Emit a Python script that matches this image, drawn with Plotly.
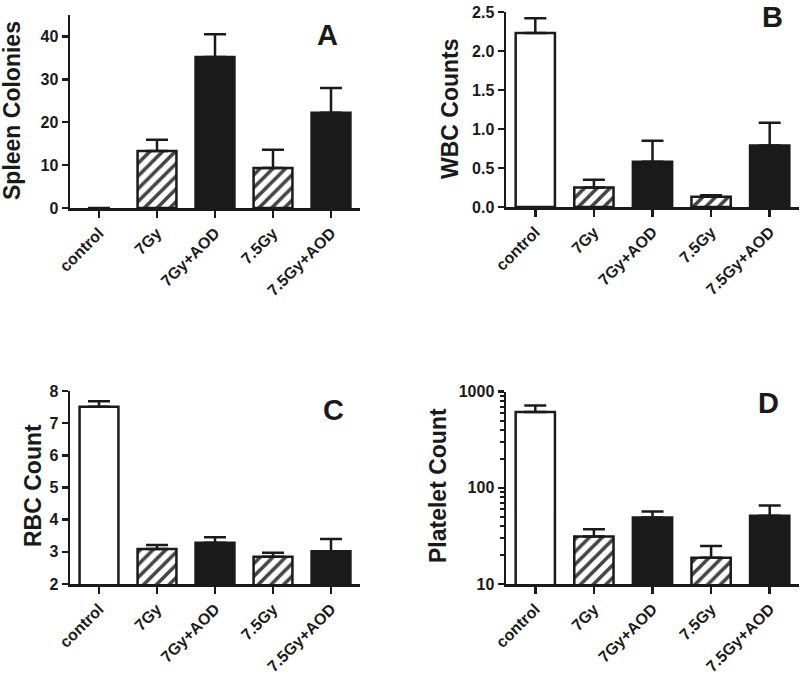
import plotly.graph_objects as go

categories = ["control", "7Gy", "7Gy+AOD", "7.5Gy", "7.5Gy+AOD"]

spleen_mean = [0, 13.3, 35.2, 9.3, 22.2]
spleen_err = [0, 2.6, 5.3, 4.3, 5.8]

wbc_mean = [2.23, 0.25, 0.58, 0.13, 0.79]
wbc_err = [0.19, 0.10, 0.27, 0.02, 0.29]

rbc_mean = [7.51, 3.09, 3.28, 2.85, 3.02]
rbc_err = [0.17, 0.12, 0.17, 0.12, 0.38]

plt_mean = [615, 31.1, 49.1, 18.8, 51.4]
plt_err = [105, 6.1, 7.5, 6.1, 14.1]

fill_colors = ["white", "white", "#1a1a1a", "white", "#1a1a1a"]
pattern_shapes = ["", "/", "", "/", ""]

W, H = 800, 679
FONT = "Liberation Sans, Arial, Helvetica, sans-serif"
INK = "#1a1a1a"


def px_x(p):
    return p / W


def px_y(p):
    return 1 - p / H


panels = [
    ("A", spleen_mean, spleen_err, (70, 360), (15, 208), [0, 45], "linear",
     [0, 10, 20, 30, 40], ["0", "10", "20", "30", "40"], "Spleen Colonies", (12, 111), (327, 35)),
    ("B", wbc_mean, wbc_err, (506, 799), (12, 207), [0, 2.5], "linear",
     [0, 0.5, 1.0, 1.5, 2.0, 2.5], ["0.0", "0.5", "1.0", "1.5", "2.0", "2.5"], "WBC Counts", (450, 109), (772, 17)),
    ("C", rbc_mean, rbc_err, (70, 360), (391, 584), [2, 8], "linear",
     [2, 3, 4, 5, 6, 7, 8], ["2", "3", "4", "5", "6", "7", "8"], "RBC Count", (33, 486), (333, 410)),
    ("D", plt_mean, plt_err, (506, 799), (391.7, 584), [1, 3], "log",
     [10, 100, 1000], ["10", "100", "1000"], "Platelet Count", (438, 486), (768, 403)),
]

fig = go.Figure()
layout = dict(
    width=W, height=H,
    margin=dict(l=0, r=0, t=0, b=0),
    paper_bgcolor="white", plot_bgcolor="white",
    showlegend=False,
    font=dict(family=FONT, color=INK),
)
annotations = []

for i, (name, means, errs, xd, yd, yr, ytype, tv, tt, title, tpos, lpos) in enumerate(panels):
    n = "" if i == 0 else str(i + 1)
    xa, ya = "x" + n, "y" + n
    line_w = [0 if (ytype == "linear" and v <= yr[0]) else 2.5 for v in means]
    fig.add_trace(go.Bar(
        x=categories, y=means, xaxis=xa, yaxis=ya,
        width=0.67,
        marker=dict(
            color=fill_colors,
            line=dict(color=INK, width=line_w),
            pattern=dict(shape=pattern_shapes, fgcolor="#000000", bgcolor="white",
                         fgopacity=1, size=9, solidity=0.4),
        ),
        error_y=dict(type="data", array=errs, arrayminus=[0] * 5, symmetric=False,
                     color=INK, thickness=2.5, width=11),
        cliponaxis=False,
    ))
    layout["xaxis" + n] = dict(
        domain=[px_x(xd[0]), px_x(xd[1])], anchor=ya, automargin=False,
        type="category", range=[-0.5, 4.5],
        showline=True, linecolor=INK, linewidth=2.5,
        ticks="outside", ticklen=7, tickwidth=2.5, tickcolor=INK,
        tickangle=-45, tickfont=dict(family=FONT, size=16, color=INK, weight="bold"),
        showgrid=False, zeroline=False, fixedrange=True,
    )
    ydict = dict(
        domain=[px_y(yd[1]), px_y(yd[0])], anchor=xa, automargin=False,
        type=ytype, range=yr,
        showline=True, linecolor=INK, linewidth=2.5,
        ticks="outside", ticklen=6, tickwidth=2.5, tickcolor=INK,
        tickvals=tv, ticktext=tt,
        tickfont=dict(family=FONT, size=16, color=INK, weight="bold"),
        showgrid=False, zeroline=False, fixedrange=True,
    )
    if ytype == "log":
        ydict["minor"] = dict(ticks="outside", ticklen=4, tickwidth=2, tickcolor=INK,
                              dtick="D1", showgrid=False)
    layout["yaxis" + n] = ydict
    annotations.append(dict(
        text=title, xref="paper", yref="paper", x=px_x(tpos[0]), y=px_y(tpos[1]),
        xanchor="center", yanchor="middle", textangle=-90, showarrow=False,
        font=dict(family=FONT, size=23, color=INK, weight="bold"),
    ))
    annotations.append(dict(
        text=name, xref="paper", yref="paper", x=px_x(lpos[0]), y=px_y(lpos[1]),
        xanchor="center", yanchor="middle", showarrow=False,
        font=dict(family=FONT, size=29, color=INK, weight="bold"),
    ))

layout["annotations"] = annotations
fig.update_layout(**layout)
fig.write_html(
    "out.html",
    config={"displayModeBar": False, "staticPlot": True},
    post_script="document.body.style.margin='0';document.body.style.overflow='hidden';",
)
